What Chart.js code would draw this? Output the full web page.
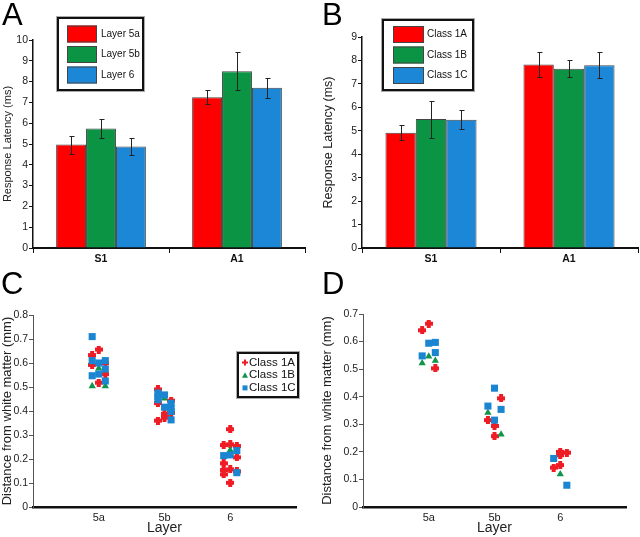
<!DOCTYPE html>
<html>
<head>
<meta charset="utf-8">
<script src="https://cdn.jsdelivr.net/npm/chart.js@4.4.1/dist/chart.umd.min.js"></script>
<style>
    body { margin: 0; background: #fff; width: 640px; height: 537px; position: relative; overflow: hidden;
           font-family: "Liberation Sans", Arial, sans-serif; }
    canvas { position: absolute; }
    .letter { position: absolute; font-size: 31px; line-height: 31px; color: #000; }
</style>
</head>
<body>
<canvas id="chart-a" width="320" height="270" style="left:0;top:0"></canvas>
<canvas id="chart-b" width="320" height="270" style="left:320px;top:0"></canvas>
<canvas id="chart-c" width="320" height="267" style="left:0;top:270px"></canvas>
<canvas id="chart-d" width="320" height="267" style="left:320px;top:270px"></canvas>
<div class="letter" style="left:2px;top:-1px">A</div>
<div class="letter" style="left:322px;top:-1px">B</div>
<div class="letter" style="left:1px;top:268px">C</div>
<div class="letter" style="left:322px;top:268px">D</div>
<script>
// ===================================
// DATA
// ===================================

const areas = ['S1', 'A1'];
const layerLabels = ['Layer 5a', 'Layer 5b', 'Layer 6'];
const classLabels = ['Class 1A', 'Class 1B', 'Class 1C'];
const layerTicks = ['5a', '5b', '6'];

// A: response latency (ms) by layer, [S1, A1], with +/- error
const latency5a = [4.97, 7.25];
const latency5b = [5.75, 8.5];
const latency6 = [4.88, 7.7];
const error5a = [0.43, 0.35];
const error5b = [0.45, 0.9];
const error6 = [0.43, 0.48];

// B: response latency (ms) by class, [S1, A1], with +/- error
const latency1A = [4.92, 7.83];
const latency1B = [5.5, 7.65];
const latency1C = [5.47, 7.8];
const error1A = [0.32, 0.52];
const error1B = [0.79, 0.35];
const error1C = [0.4, 0.55];

// C / D: [layer (1 = 5a, 2 = 5b, 3 = 6), jitter column, distance from white matter (mm)]
const depthC1A = [
    [1, -1, 0.633], [1, -1, 0.592], [1, 0, 0.656], [1, 0, 0.518], [1, 1, 0.600], [1, 1, 0.554],
    [2, -1, 0.49], [2, -1, 0.433], [2, -1, 0.36], [2, 0, 0.388], [2, 0, 0.372], [2, 1, 0.443], [2, 1, 0.392],
    [3, 0, 0.324], [3, -1, 0.258], [3, 0, 0.261], [3, 1, 0.254], [3, 1, 0.207], [3, -1, 0.182],
    [3, -1, 0.154], [3, 0, 0.157], [3, -1, 0.136], [3, 1, 0.148], [3, 0, 0.101]
];
const depthC1B = [
    [1, 0, 0.578], [1, -1, 0.504], [1, 1, 0.504],
    [2, 0, 0.452],
    [3, 0, 0.237]
];
const depthC1C = [
    [1, -1, 0.71], [1, -1, 0.61], [1, -1, 0.547], [1, 0, 0.60], [1, 0, 0.554], [1, 1, 0.61], [1, 1, 0.575], [1, 1, 0.525],
    [2, -1, 0.475], [2, -1, 0.46], [2, -1, 0.447], [2, 0, 0.467], [2, 0, 0.416], [2, 1, 0.432], [2, 1, 0.412],
    [2, 1, 0.398], [2, 1, 0.363],
    [3, 1, 0.235], [3, 0, 0.217], [3, -1, 0.214], [3, 1, 0.143]
];

const depthD1A = [
    [1, -1, 0.641], [1, 0, 0.665], [1, 1, 0.503],
    [2, 1, 0.394], [2, -1, 0.315], [2, 0, 0.294], [2, 0, 0.257],
    [3, 0, 0.20], [3, 1, 0.197], [3, 0, 0.188], [3, -1, 0.143], [3, 0, 0.152]
];
const depthD1B = [
    [1, 0, 0.546], [1, -1, 0.522], [1, 1, 0.531],
    [2, -1, 0.342], [2, 1, 0.263],
    [3, 0, 0.119]
];
const depthD1C = [
    [1, 0, 0.594], [1, 1, 0.597], [1, -1, 0.548], [1, 1, 0.56],
    [2, 0, 0.431], [2, -1, 0.366], [2, 1, 0.354], [2, 0, 0.315],
    [3, -1, 0.176], [3, 1, 0.079]
];

// ===================================
// STYLE
// ===================================

const barColors = { red: '#ff0000', green: '#0c9445', blue: '#1c87d6' };
const dotColors = { red: '#ee1c25', green: '#10954a', blue: '#1a86d2' };
const FONT = '"Liberation Sans", Arial, sans-serif';
const JITTER = 0.1;

function plusMarker(color, size, arm) {
    const c = document.createElement('canvas');
    c.width = c.height = size;
    const g = c.getContext('2d');
    g.fillStyle = color;
    const o = (size - arm) / 2;
    g.fillRect(o, 0, arm, size);
    g.fillRect(0, o, size, arm);
    return c;
}

// error bars for bar panels
const errorBars = {
    id: 'errorBars',
    afterDatasetsDraw(chart) {
        const ctx = chart.ctx;
        const y = chart.scales.y;
        ctx.save();
        ctx.strokeStyle = '#222';
        ctx.lineWidth = 1;
        chart.data.datasets.forEach((ds, i) => {
            if (!ds.errors) return;
            chart.getDatasetMeta(i).data.forEach((bar, j) => {
                const v = ds.data[j], e = ds.errors[j];
                const x = Math.round(bar.x) + 0.5;
                const top = Math.round(y.getPixelForValue(v + e)) + 0.5;
                const bot = Math.round(y.getPixelForValue(v - e)) + 0.5;
                ctx.beginPath();
                ctx.moveTo(x, top); ctx.lineTo(x, bot);
                ctx.moveTo(x - 2, top); ctx.lineTo(x + 3, top);
                ctx.moveTo(x - 2, bot); ctx.lineTo(x + 3, bot);
                ctx.stroke();
            });
        });
        ctx.restore();
    }
};

// framed legend drawn inside the plot
const boxLegend = {
    id: 'boxLegend',
    afterDraw(chart, args, opts) {
        if (!opts || !opts.box) return;
        const ctx = chart.ctx;
        const [bx, by, bw, bh] = opts.box;
        ctx.save();
        ctx.fillStyle = '#fff';
        ctx.fillRect(bx, by, bw, bh);
        ctx.strokeStyle = '#aaa';
        ctx.lineWidth = 1;
        ctx.strokeRect(bx - 1.5, by - 1.5, bw + 3, bh + 3);
        ctx.strokeStyle = '#111';
        ctx.lineWidth = 2;
        ctx.strokeRect(bx, by, bw, bh);
        ctx.font = opts.font;
        ctx.textBaseline = 'middle';
        chart.data.datasets.forEach((ds, i) => {
            const cy = opts.firstRow + i * opts.rowGap;
            if (opts.kind === 'swatch') {
                const [sw, sh] = opts.swatch;
                ctx.fillStyle = ds.backgroundColor;
                ctx.fillRect(opts.markX, cy - sh / 2, sw, sh);
                ctx.strokeStyle = '#444';
                ctx.lineWidth = 1;
                ctx.strokeRect(opts.markX + 0.5, cy - sh / 2 + 0.5, sw - 1, sh - 1);
            } else {
                const mx = opts.markX, s = 3;
                ctx.fillStyle = ds.legendColor;
                if (ds.pointStyle === 'triangle') {
                    ctx.beginPath();
                    ctx.moveTo(mx, cy - s);
                    ctx.lineTo(mx + s, cy + s - 0.5);
                    ctx.lineTo(mx - s, cy + s - 0.5);
                    ctx.closePath();
                    ctx.fill();
                } else if (ds.pointStyle === 'rect') {
                    ctx.fillRect(mx - s + 0.5, cy - s + 0.5, 2 * s - 1, 2 * s - 1);
                } else {
                    ctx.fillRect(mx - 1, cy - s, 2, 2 * s);
                    ctx.fillRect(mx - s, cy - 1, 2 * s, 2);
                }
            }
            ctx.fillStyle = '#111';
            ctx.fillText(ds.label, opts.textX, cy);
        });
        ctx.restore();
    }
};

// ===================================
// BAR PANELS
// ===================================

function createBarChart(id, labels, series, errors, names, yMax, yTitle, titleSize, pad, yWidth, legend) {
    const colors = [barColors.red, barColors.green, barColors.blue];
    return new Chart(document.getElementById(id), {
        type: 'bar',
        data: {
            labels,
            datasets: series.map((data, i) => ({
                label: names[i],
                data,
                errors: errors[i],
                backgroundColor: colors[i],
                borderColor: '#444',
                borderWidth: 1,
                borderSkipped: 'bottom',
                categoryPercentage: 0.66,
                barPercentage: 1.0
            }))
        },
        options: {
            responsive: false,
            animation: false,
            layout: { padding: pad },
            plugins: {
                legend: { display: false },
                tooltip: { enabled: false },
                boxLegend: legend
            },
            scales: {
                x: {
                    grid: { drawOnChartArea: false, drawTicks: true, tickLength: 5, color: '#111', offset: true },
                    border: { color: '#111', width: 2 },
                    ticks: { color: '#111', padding: 0, font: { family: FONT, size: 10.5, weight: 'bold' } },
                    afterFit: s => { s.height = 22; }
                },
                y: {
                    min: 0,
                    max: yMax,
                    ticks: { stepSize: 1, color: '#222', padding: 1, font: { family: FONT, size: 10.5 } },
                    grid: { drawOnChartArea: false, drawTicks: true, tickLength: 4, color: '#111' },
                    border: { color: '#111', width: 1.5 },
                    title: { display: true, text: yTitle, color: '#222', padding: { top: 1, bottom: 0 },
                             font: { family: FONT, size: titleSize } },
                    afterFit: s => { s.width = yWidth; }
                }
            }
        },
        plugins: [errorBars, boxLegend]
    });
}

createBarChart('chart-a', areas, [latency5a, latency5b, latency6], [error5a, error5b, error6], layerLabels,
    10, 'Response Latency (ms)', 11, { left: 0, top: 40, right: 15, bottom: 0 }, 33,
    { box: [58, 18, 85, 72], kind: 'swatch', swatch: [30, 17], markX: 67, textX: 101, firstRow: 34, rowGap: 20.5,
      font: '10px ' + FONT });

createBarChart('chart-b', areas, [latency1A, latency1B, latency1C], [error1A, error1B, error1C], classLabels,
    9, 'Response Latency (ms)', 12.5, { left: 0, top: 37, right: 2, bottom: 0 }, 42,
    { box: [63, 20, 90, 70], kind: 'swatch', swatch: [31, 17], markX: 73, textX: 107, firstRow: 34.5, rowGap: 20.5,
      font: '10px ' + FONT });

// ===================================
// SCATTER PANELS
// ===================================

function toPoints(rows) {
    return rows.map(([layer, col, depth]) => ({ x: layer + col * JITTER, y: depth }));
}

function createScatterChart(id, groups, yMax, pad, yWidth, legend) {
    const styles = [
        { pointStyle: plusMarker(dotColors.red, 8, 4), legendColor: dotColors.red, order: 3 },
        { pointStyle: 'triangle', radius: 4.2, legendColor: dotColors.green, order: 2 },
        { pointStyle: 'rect', radius: 5, legendColor: dotColors.blue, order: 1 }
    ];
    return new Chart(document.getElementById(id), {
        type: 'scatter',
        data: {
            datasets: groups.map((rows, i) => ({
                label: classLabels[i],
                data: toPoints(rows),
                pointStyle: styles[i].pointStyle,
                pointRadius: styles[i].radius || 4,
                backgroundColor: styles[i].legendColor,
                borderWidth: 0,
                legendColor: styles[i].legendColor,
                order: styles[i].order
            }))
        },
        options: {
            responsive: false,
            animation: false,
            layout: { padding: pad },
            plugins: {
                legend: { display: false },
                tooltip: { enabled: false },
                boxLegend: legend
            },
            scales: {
                x: {
                    type: 'linear',
                    min: 0,
                    max: 4,
                    afterBuildTicks: s => { s.ticks = [1, 2, 3].map(v => ({ value: v })); },
                    ticks: {
                        color: '#222', padding: 4, font: { family: FONT, size: 11 },
                        callback: v => layerTicks[Math.round(v) - 1]
                    },
                    grid: { display: false, drawTicks: false },
                    border: { color: '#111', width: 2.5 },
                    title: { display: true, text: 'Layer', color: '#222', padding: { top: 0, bottom: 0 },
                             font: { family: FONT, size: 14 } },
                    afterFit: s => { s.height = 30; }
                },
                y: {
                    min: 0,
                    max: yMax,
                    ticks: {
                        stepSize: 0.1, color: '#222', padding: 1, font: { family: FONT, size: 10.5 },
                        callback: v => (Math.abs(v) < 1e-9 ? '0' : v.toFixed(1))
                    },
                    grid: { drawOnChartArea: false, drawTicks: true, tickLength: 4, color: '#555' },
                    border: { color: '#555', width: 1 },
                    title: { display: true, text: 'Distance from white matter (mm)', color: '#222',
                             padding: { top: 0, bottom: 0 }, font: { family: FONT, size: 13 } },
                    afterFit: s => { s.width = yWidth; }
                }
            }
        },
        plugins: [boxLegend]
    });
}

createScatterChart('chart-c', [depthC1A, depthC1B, depthC1C], 0.8,
    { left: 0, top: 45, right: 24, bottom: 0 }, 33,
    { box: [238, 83, 60, 44], kind: 'marker', markX: 245, textX: 249, firstRow: 92.5, rowGap: 12.7,
      font: '11.5px ' + FONT });

createScatterChart('chart-d', [depthD1A, depthD1B, depthD1C], 0.7,
    { left: 0, top: 44, right: 14, bottom: 0 }, 43, null);
</script>
</body>
</html>
